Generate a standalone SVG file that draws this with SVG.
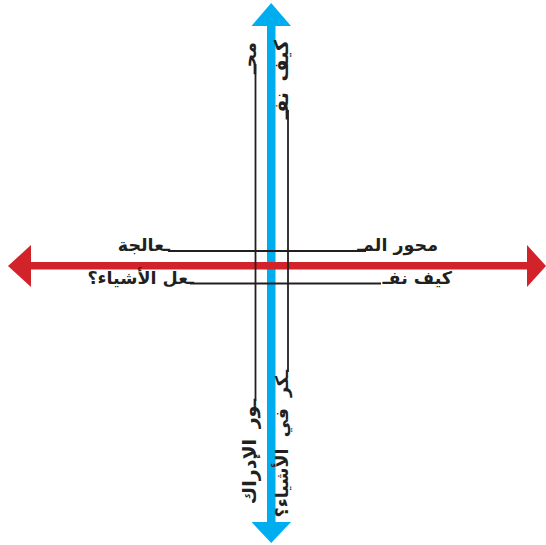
<svg xmlns="http://www.w3.org/2000/svg" width="546" height="545" viewBox="0 0 546 545">
<style>
.t{font-family:"DejaVu Sans","Noto Sans",sans-serif;font-weight:bold;font-size:17.5px;fill:#231f20}
.v{font-size:19px;word-spacing:4px}
.w{font-size:17.5px;word-spacing:5px}
.k{stroke:#231f20;stroke-width:1.8;fill:none}
</style>
<rect width="546" height="545" fill="#fff"/>
<g id="axis-vertical">
<rect x="267" y="24" width="8.5" height="500" fill="#00aeef"/>
<polygon points="271.2,3 291,26 251.5,26" fill="#00aeef"/>
<polygon points="251.5,522 291,522 271.2,543" fill="#00aeef"/>
</g>
<g id="axis-horizontal">
<rect x="29" y="262" width="500" height="7.5" fill="#d2232a"/>
<polygon points="8,266 31,245 31,287" fill="#d2232a"/>
<polygon points="527,245 546,266 527,287" fill="#d2232a"/>
</g>
<g id="connectors">
<line class="k" x1="168" y1="251" x2="366" y2="251"/>
<line class="k" x1="190" y1="283.5" x2="381" y2="283.5"/>
<line class="k" x1="255.5" y1="64" x2="255.5" y2="401"/>
<line class="k" x1="288" y1="110" x2="288" y2="372"/>
</g>
<g id="label-processing">
<text class="t" x="438" y="251" text-anchor="end">محور المـ</text>
<text class="t" x="170" y="251" text-anchor="end">ـعالجة</text>
</g>
<g id="label-doing">
<text class="t" x="452" y="283.5" text-anchor="end">كيف نفـ</text>
<text class="t" x="194" y="283.5" text-anchor="end">ـعل الأشياء؟</text>
</g>
<g id="label-perception">
<text class="t v" transform="translate(255.5,42) rotate(-90)" text-anchor="end">محـ</text>
<text class="t v" transform="translate(255.5,399) rotate(-90)" text-anchor="end">ـور الإدراك</text>
</g>
<g id="label-thinking">
<text class="t v" transform="translate(288,40) rotate(-90)" text-anchor="end">كيف نفـ</text>
<text class="t w" transform="translate(288,370) rotate(-90)" text-anchor="end">ـكر في الأشياء؟</text>
</g>
</svg>
